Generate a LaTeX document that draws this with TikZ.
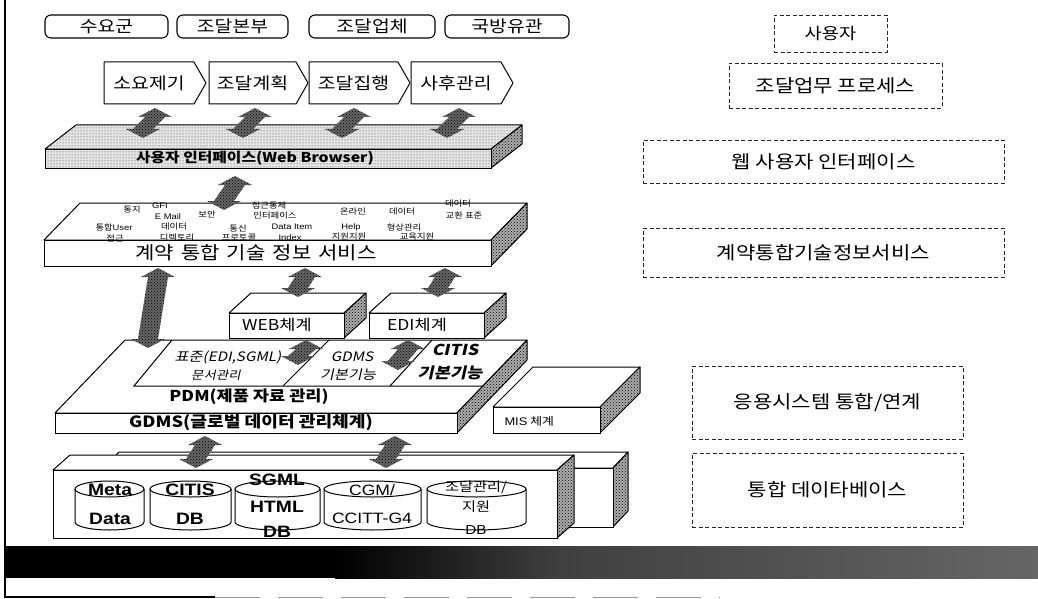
\documentclass[tikz,border=0pt]{standalone}
\usepackage{fontspec}
\setmainfont{Noto Sans CJK KR}[FakeStretch=1.17]
\newfontfamily\lat{Liberation Sans}[FakeStretch=1.17]
\newfontfamily\krit{Noto Sans CJK KR}[FakeStretch=1.17, FakeSlant=0.22]
\usetikzlibrary{patterns,calc}
\newcommand{\fsz}[1]{\fontsize{#1}{#1}\selectfont}
\tikzset{
  topbox/.style={draw, line width=1.1pt, rounded corners=6pt, minimum height=23pt, inner sep=0pt, font=\fsz{16.5}},
  chevtxt/.style={font=\fsz{16.5}, inner sep=0pt},
  rbox/.style={draw=black!85, line width=0.7pt, dash pattern=on 4pt off 2.5pt, inner sep=0pt},
  sideface/.style={preaction={fill=black!32}, pattern=crosshatch dots, pattern color=black},
  lightface/.style={preaction={fill=black!10}, pattern=dots, pattern color=black!80},
  hatchfill/.style={preaction={fill=black!60}, pattern=crosshatch dots, pattern color=black},
  small/.style={font=\fsz{8}, inner sep=0pt},
  cyl/.style={font=\lat\bfseries\fsz{16.5}, inner sep=0pt},
  cylr/.style={font=\lat\fsz{15}, inner sep=0pt},
}
% #1 x1, #2 y1 (top of front), #3 x2, #4 y2 (bottom), #5 dx, #6 dy (up), #7 front style, #8 top style
\newcommand{\slab}[8]{%
  \draw[line width=1pt, line join=round, #8] (#1,#2) -- ++(#5,-#6) -- ({#3+#5},{#2-#6}) -- (#3,#2) -- cycle;
  \draw[line width=1pt, line join=round, sideface] (#3,#2) -- ({#3+#5},{#2-#6}) -- ({#3+#5},{#4-#6}) -- (#3,#4) -- cycle;
  \draw[line width=1pt, #7] (#1,#2) rectangle (#3,#4);
}
% chevron: name, left, tip, text
\newcommand{\chev}[4]{%
  \draw[line width=1pt, line join=round, fill=white] (#2,62) -- ({#3-12},62) -- (#3,83) -- ({#3-12},104) -- (#2,104) -- cycle;
  \node[chevtxt] (#1) at ({(#2+#3-12)/2},83) {#4};
}
% hatched double arrow between two named coordinates (top, bottom)
\newcommand{\harr}[2]{%
  \fill[hatchfill] (#1) -- ($(#1)+(17,9)$) -- ($(#1)+(10,9)$) -- ($(#2)+(10,-9)$) -- ($(#2)+(17,-9)$) -- (#2)
    -- ($(#2)+(-17,-9)$) -- ($(#2)+(-10,-9)$) -- ($(#1)+(-10,9)$) -- ($(#1)+(-17,9)$) -- cycle;
}
% cylinder: left, right
\newcommand{\dbcyl}[2]{%
  \draw[line width=1pt, fill=white] (#1,489) -- (#1,522) arc[start angle=180, end angle=0, x radius={(#2-#1)/2}, y radius=8] -- (#2,489);
  \draw[line width=1pt] ({(#1+#2)/2},489) ellipse [x radius={(#2-#1)/2}, y radius=8];
}
\begin{document}
\begin{tikzpicture}[x=1pt, y=-1pt, line width=1pt, every node/.style={inner sep=1pt}, font=\fsz{16}]
\useasboundingbox (0,0) rectangle (1038,599);
% frame and bottom bar
\draw[line width=1.4pt] (5,0) -- (5,597) -- (215,597);
\draw[line width=0.8pt, black!40, dash pattern=on 45pt off 18pt] (215,597) -- (720,597);
\fill[black] (5,546) rectangle (335,578);
\shade[left color=black, right color=black!75] (335,546) rectangle (560,578);
\shade[left color=black!75, right color=black!60] (560,546) rectangle (1038,578);

% users
\node[topbox, minimum width=123pt] (u1) at (106.5,26.5) {수요군};
\node[topbox, minimum width=111pt] (u2) at (232.5,26.5) {조달본부};
\node[topbox, minimum width=126pt] (u3) at (372,26.5) {조달업체};
\node[topbox, minimum width=124pt] (u4) at (507,26.5) {국방유관};

% process chevrons
\chev{c1}{104}{206}{소요제기}
\chev{c2}{209}{308}{조달계획}
\chev{c3}{309}{410}{조달집행}
\chev{c4}{411}{513}{사후관리}

% web UI slab
\slab{45}{149}{491}{168}{31}{24}{lightface}{lightface}
\node[font=\bfseries\fsz{13.5}] (ui) at (255,158.5) {사용자 인터페이스(Web Browser)};

% CITIS slab
\slab{44}{240}{491}{266}{36}{37}{fill=white}{fill=white}
\node[font=\fsz{18}] (citis) at (256,253) {계약\hspace{7pt}통합\hspace{7pt}기술\hspace{7pt}정보\hspace{7pt}서비스};
\node[small] (t1) at (132,210) {통지};
\node[small] (t2) at (160,206) {\lat GFI};
\node[small] (t3) at (168,217) {\lat E Mail};
\node[small] (t4) at (207,214) {보안};
\node[small] (t5) at (114,227) {통합{\lat User}};
\node[small] (t6) at (174,227) {데이터};
\node[small] (t7) at (238,228) {통신};
\node[small] (t8) at (115,238) {접근};
\node[small] (t9) at (177,238) {디렉토리};
\node[small] (t10) at (239,238) {프로토콜};
\node[small] (t11) at (269,206) {접근통제};
\node[small] (t12) at (275,216) {인터페이스};
\node[small] (t13) at (292,227) {\lat Data Item};
\node[small] (t14) at (290,238) {\lat Index};
\node[small] (t15) at (353,212) {온라인};
\node[small] (t16) at (351,227) {\lat Help};
\node[small] (t17) at (349,237) {지원지원};
\node[small] (t18) at (402,212) {데이터};
\node[small] (t19) at (404,227) {형상관리};
\node[small] (t20) at (417,237) {교육지원};
\node[small] (t21) at (458,204) {데이터};
\node[small] (t22) at (464,215) {교환 표준};

% MIS box (behind PDM)
\slab{493}{407}{600}{433}{40}{40}{fill=white}{fill=white}
\node[anchor=west, font=\fsz{11}] (mis) at (503,421) {{\lat MIS} 체계};

% PDM / GDMS slab
\slab{55}{413}{457}{433}{70}{73}{fill=white}{fill=white}
\draw (172,340) -- (134,386) -- (483,386);
\draw (329,340) -- (283,386);
\draw (432,340) -- (390,386);
\node[font=\krit\fsz{13}] (s1) at (228,357) {표준(EDI,SGML)};
\node[font=\krit\fsz{11.5}] (s2) at (216,375) {문서관리};
\node[font=\krit\fsz{13}] (s3) at (352,357) {GDMS};
\node[font=\krit\fsz{13}] (s4) at (348,375) {기본기능};
\node[font=\krit\bfseries\fsz{15}] (s5) at (455,350) {CITIS};
\node[font=\krit\bfseries\fsz{15}] (s6) at (450,373) {기본기능};
\node[font=\bfseries\fsz{15}] (pdm) at (249,397) {PDM(제품 자료 관리)};
\node[font=\bfseries\fsz{15.5}] (gdms) at (251,423) {GDMS(글로벌 데이터 관리체계)};

% WEB / EDI boxes
\slab{229}{313}{344}{338}{22}{20}{fill=white}{fill=white}
\node[font=\fsz{15}] (web) at (277,325) {WEB체계};
\slab{369}{313}{484}{338}{22}{20}{fill=white}{fill=white}
\node[font=\fsz{15}] (edi) at (417,325) {EDI체계};

% database slabs
\slab{104}{468}{613}{527}{15}{16}{fill=white}{fill=white}
\slab{53}{470}{557}{538}{17}{15}{fill=white}{fill=white}
\dbcyl{75}{144}
\dbcyl{150}{231}
\dbcyl{235}{320}
\dbcyl{324}{421}
\dbcyl{427}{526}
\node[cyl] (m1) at (110,490) {Meta};
\node[cyl] (m2) at (110,519) {Data};
\node[cyl] (d1) at (190,490) {CITIS};
\node[cyl] (d2) at (190,519) {DB};
\node[cyl] (h1) at (277,480) {SGML};
\node[cyl] (h2) at (277,507) {HTML};
\node[cyl] (h3) at (277,532) {DB};
\node[cylr] (g1) at (372,490) {CGM/};
\node[cylr] (g2) at (372,518) {CCITT-G4};
\node[font=\fsz{13}, inner sep=0pt] (j1) at (476,487) {조달관리/};
\node[font=\fsz{13}, inner sep=0pt] (j2) at (476,507) {지원};
\node[font=\lat\fsz{13}, inner sep=0pt] (j3) at (476,530) {DB};

% hatched connectors
\coordinate (a1t) at (155,108); \coordinate (a1b) at (143,138);
\coordinate (a2t) at (255,108); \coordinate (a2b) at (243,138);
\coordinate (a3t) at (354,108); \coordinate (a3b) at (342,138);
\coordinate (a4t) at (459,108); \coordinate (a4b) at (447,138);
\harr{a1t}{a1b} \harr{a2t}{a2b} \harr{a3t}{a3b} \harr{a4t}{a4b}
\coordinate (b1t) at (235,176); \coordinate (b1b) at (224,210);
\harr{b1t}{b1b}
\coordinate (e1t) at (158,268); \coordinate (e1b) at (148,348);
\coordinate (e2t) at (305,268); \coordinate (e2b) at (298,297);
\coordinate (e3t) at (445,268); \coordinate (e3b) at (438,297);
\coordinate (e4t) at (306,340); \coordinate (e4b) at (298,365);
\coordinate (e5t) at (408,340); \coordinate (e5b) at (398,370);
\harr{e1t}{e1b} \harr{e2t}{e2b} \harr{e3t}{e3b} \harr{e4t}{e4b} \harr{e5t}{e5b}
\coordinate (f1t) at (205,436); \coordinate (f1b) at (196,468);
\coordinate (f2t) at (395,436); \coordinate (f2b) at (386,468);
\harr{f1t}{f1b} \harr{f2t}{f2b}

% right-hand legend boxes
\node[rbox, minimum width=113pt, minimum height=37pt, font=\fsz{16}] (r1) at (830.5,33.5) {사용자};
\node[rbox, minimum width=213pt, minimum height=45pt, font=\fsz{18}] (r2) at (835.5,85.5) {조달업무 프로세스};
\node[rbox, minimum width=361pt, minimum height=43pt, font=\fsz{18}] (r3) at (823.5,161.5) {웹 사용자 인터페이스};
\node[rbox, minimum width=361pt, minimum height=49pt, font=\fsz{18}] (r4) at (823.5,252.5) {계약통합기술정보서비스};
\node[rbox, minimum width=271pt, minimum height=73pt, font=\fsz{18}] (r5) at (827.5,402.5) {응용시스템 통합/연계};
\node[rbox, minimum width=271pt, minimum height=74pt, font=\fsz{18}] (r6) at (827.5,490) {통합 데이타베이스};
\end{tikzpicture}
\end{document}
